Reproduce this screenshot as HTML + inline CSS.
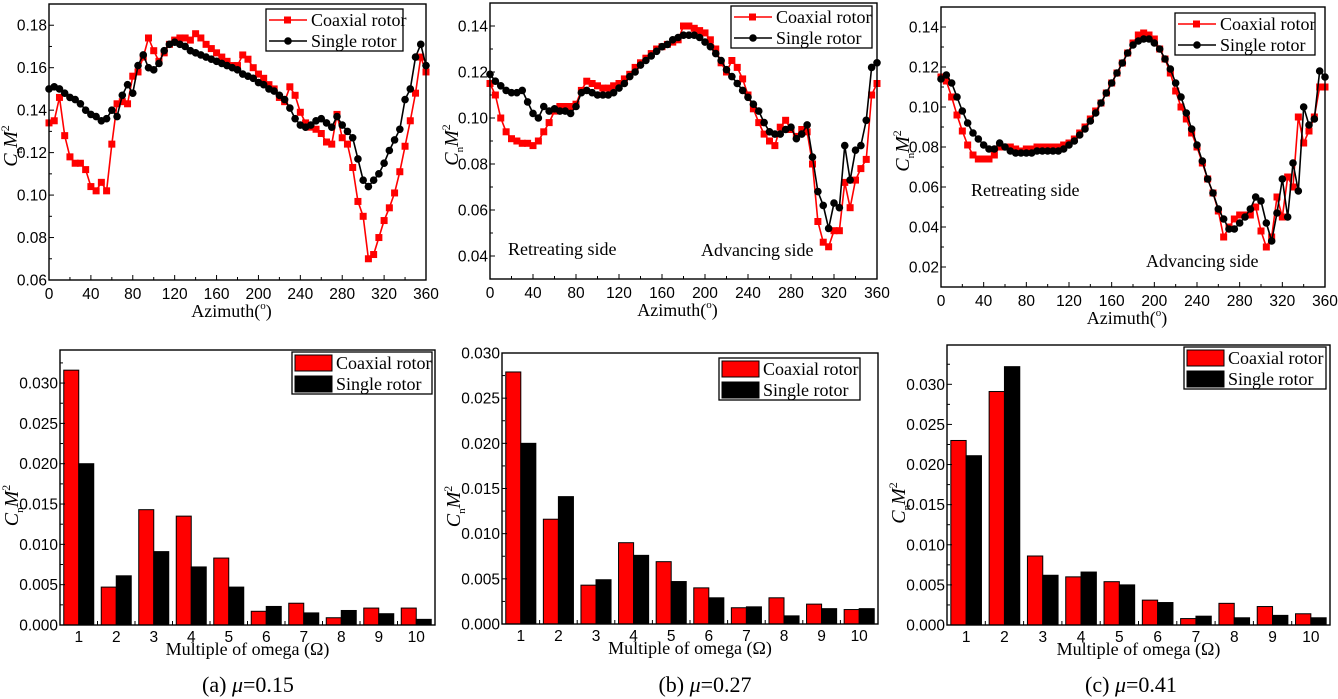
<!DOCTYPE html>
<html><head><meta charset="utf-8">
<style>
html,body{margin:0;padding:0;background:#fff;}
svg{display:block;}
.tk{font-family:"Liberation Sans",Arial,sans-serif;font-size:15.5px;fill:#000;}
.sf{font-family:"Liberation Serif","Times New Roman",serif;fill:#000;}
</style></head>
<body>
<svg id="fig" width="1338" height="699" viewBox="0 0 1338 699" xmlns="http://www.w3.org/2000/svg"></svg>
<script>
// ---------- data ----------
const azimuth = [0,5,10,15,20,25,30,35,40,45,50,55,60,65,70,75,80,85,90,95,100,105,110,115,120,125,130,135,140,145,150,155,160,165,170,175,180,185,190,195,200,205,210,215,220,225,230,235,240,245,250,255,260,265,270,275,280,285,290,295,300,305,310,315,320,325,330,335,340,345,350,355,360];
const coaxialA = [0.134,0.135,0.146,0.128,0.118,0.115,0.115,0.112,0.104,0.102,0.106,0.102,0.124,0.143,0.144,0.143,0.156,0.158,0.165,0.174,0.168,0.163,0.167,0.171,0.173,0.174,0.174,0.173,0.176,0.174,0.171,0.169,0.167,0.165,0.163,0.161,0.161,0.166,0.164,0.160,0.157,0.155,0.152,0.150,0.146,0.144,0.151,0.147,0.139,0.134,0.132,0.131,0.129,0.125,0.124,0.138,0.127,0.124,0.113,0.097,0.090,0.070,0.072,0.080,0.088,0.094,0.101,0.111,0.123,0.135,0.148,0.165,0.158];
const singleA = [0.150,0.151,0.150,0.148,0.146,0.145,0.143,0.140,0.138,0.137,0.135,0.136,0.140,0.137,0.147,0.152,0.148,0.161,0.166,0.160,0.159,0.162,0.168,0.171,0.172,0.171,0.170,0.168,0.167,0.166,0.165,0.164,0.163,0.162,0.161,0.160,0.159,0.157,0.156,0.155,0.153,0.152,0.150,0.149,0.147,0.145,0.141,0.136,0.133,0.132,0.133,0.135,0.136,0.134,0.132,0.137,0.133,0.130,0.127,0.117,0.107,0.104,0.107,0.110,0.115,0.121,0.126,0.131,0.145,0.150,0.165,0.171,0.161];
const coaxialB = [0.115,0.110,0.100,0.094,0.091,0.090,0.089,0.089,0.088,0.090,0.094,0.098,0.103,0.105,0.105,0.105,0.106,0.112,0.116,0.115,0.114,0.113,0.113,0.114,0.115,0.117,0.119,0.122,0.124,0.126,0.128,0.130,0.131,0.132,0.133,0.134,0.140,0.140,0.139,0.138,0.137,0.134,0.130,0.124,0.120,0.125,0.122,0.117,0.110,0.104,0.098,0.093,0.090,0.088,0.096,0.099,0.095,0.092,0.095,0.094,0.080,0.055,0.046,0.044,0.051,0.051,0.072,0.061,0.073,0.078,0.082,0.110,0.115];
const singleB = [0.119,0.116,0.114,0.112,0.111,0.111,0.112,0.107,0.102,0.100,0.105,0.103,0.104,0.103,0.103,0.102,0.105,0.111,0.112,0.111,0.110,0.110,0.110,0.111,0.113,0.115,0.118,0.120,0.123,0.125,0.127,0.129,0.131,0.132,0.134,0.135,0.136,0.136,0.136,0.135,0.133,0.131,0.128,0.125,0.121,0.118,0.115,0.112,0.109,0.106,0.103,0.098,0.094,0.093,0.093,0.095,0.096,0.091,0.093,0.097,0.083,0.068,0.062,0.052,0.063,0.061,0.088,0.073,0.086,0.088,0.099,0.122,0.124];
const coaxialC = [0.115,0.113,0.105,0.096,0.088,0.081,0.076,0.074,0.074,0.074,0.076,0.080,0.080,0.080,0.079,0.078,0.079,0.079,0.080,0.080,0.080,0.080,0.080,0.081,0.082,0.084,0.087,0.090,0.094,0.098,0.102,0.107,0.112,0.117,0.122,0.127,0.132,0.136,0.137,0.136,0.134,0.129,0.124,0.117,0.108,0.100,0.094,0.087,0.080,0.072,0.064,0.057,0.048,0.035,0.040,0.044,0.046,0.046,0.046,0.050,0.038,0.030,0.035,0.055,0.045,0.065,0.060,0.095,0.082,0.088,0.095,0.110,0.110];
const singleC = [0.114,0.116,0.112,0.105,0.098,0.092,0.087,0.084,0.081,0.079,0.079,0.082,0.080,0.078,0.077,0.077,0.077,0.077,0.078,0.078,0.078,0.078,0.078,0.079,0.081,0.083,0.086,0.089,0.093,0.097,0.102,0.107,0.112,0.117,0.122,0.127,0.131,0.133,0.134,0.134,0.132,0.129,0.124,0.119,0.112,0.105,0.097,0.089,0.081,0.073,0.064,0.057,0.049,0.044,0.039,0.039,0.042,0.045,0.049,0.055,0.053,0.042,0.033,0.047,0.064,0.045,0.072,0.058,0.100,0.091,0.094,0.118,0.115];
const harmonics = [1,2,3,4,5,6,7,8,9,10];
const barCoaxA = [0.0316,0.0047,0.0143,0.0135,0.0083,0.0017,0.0027,0.0009,0.0021,0.0021];
const barSingleA = [0.0200,0.0061,0.0091,0.0072,0.0047,0.0023,0.0015,0.0018,0.0014,0.0007];
const barCoaxB = [0.0279,0.0116,0.0043,0.0090,0.0069,0.0040,0.0018,0.0029,0.0022,0.0016];
const barSingleB = [0.0200,0.0141,0.0049,0.0076,0.0047,0.0029,0.0019,0.0009,0.0017,0.0017];
const barCoaxC = [0.0230,0.0291,0.0086,0.0060,0.0054,0.0031,0.0008,0.0027,0.0023,0.0014];
const barSingleC = [0.0211,0.0322,0.0062,0.0066,0.0050,0.0028,0.0011,0.0009,0.0012,0.0009];
const xTicksAz = [0,40,80,120,160,200,240,280,320,360];
const yTicksA = ["0.06","0.08","0.10","0.12","0.14","0.16","0.18"];
const yTicksB = ["0.04","0.06","0.08","0.10","0.12","0.14"];
const yTicksC = ["0.02","0.04","0.06","0.08","0.10","0.12","0.14"];
const yTicksBar = ["0.000","0.005","0.010","0.015","0.020","0.025","0.030"];

// ---------- helpers ----------
const NS="http://www.w3.org/2000/svg";
const svg=document.getElementById('fig');
function mk(tag,attrs,parent){const e=document.createElementNS(NS,tag);for(const k in attrs)e.setAttribute(k,attrs[k]);(parent||svg).appendChild(e);return e;}
function txt(str,attrs,parent){const e=mk('text',attrs,parent);e.textContent=str;return e;}

function yTitle(g,x,y){
  const t=mk('text',{x:0,y:0,class:'sf','font-size':20,'text-anchor':'middle',transform:`translate(${x},${y}) rotate(-90)`},g);
  
  
  t.innerHTML='<tspan font-style="italic">C</tspan><tspan font-size="11" dy="5">n</tspan><tspan font-style="italic" dy="-5">M</tspan><tspan font-size="12" dy="-8">2</tspan>';
}

function linePanel(id,L,R,T,B,ymin,ymax,yt,coax,single,leg,notes){
  const g=mk('g',{});
  
  
  const sx=v=>L+(v-0)/360*(R-L);
  const sy=v=>B-(v-ymin)/(ymax-ymin)*(B-T);
  for(let a=0;a<=360;a+=20){const x=sx(a);mk('line',{x1:x,x2:x,y1:B,y2:B-(a%40==0?5:3),stroke:'#000','stroke-width':1},g);}
  xTicksAz.forEach(a=>{const t=txt(String(a),{x:sx(a),y:B+19,'text-anchor':'middle',class:'tk'},g);
    });
  yt.forEach(s=>{const v=parseFloat(s);const y=sy(v);mk('line',{x1:L,x2:L+5,y1:y,y2:y,stroke:'#000'},g);
    const m=sy(v+0.01);if(m>T)mk('line',{x1:L,x2:L+3,y1:m,y2:m,stroke:'#000'},g);
    const t=txt(s,{x:L-2,y:y+5.5,'text-anchor':'end',class:'tk'},g);
    });
  const mb=sy(parseFloat(yt[0])-0.01); if(mb<B) mk('line',{x1:L,x2:L+3,y1:mb,y2:mb,stroke:'#000'},g);
  const series=[[coax,'#f00','sq','coaxial-series'],[single,'#000','ci','single-series']];
  series.forEach(([d,c,m,nm])=>{
    const s=mk('g',{},g);
    
    
    mk('polyline',{points:d.map((v,i)=>sx(azimuth[i])+','+sy(v)).join(' '),fill:'none',stroke:c,'stroke-width':1.6},s);
    d.forEach((v,i)=>{const x=sx(azimuth[i]),y=sy(v);
      if(m=='sq')mk('rect',{x:x-3.5,y:y-3.5,width:7,height:7,fill:c},s);
      else mk('circle',{cx:x,cy:y,r:3.8,fill:c},s);});
  });
  mk('rect',{x:L,y:T,width:R-L,height:B-T,fill:'none',stroke:'#000','stroke-width':1.4},g);
  const lg=mk('g',{},g);
  
  
  mk('rect',{x:leg[0],y:leg[1],width:leg[2],height:42,fill:'#fff',stroke:'#000','stroke-width':1.3},lg);
  [['Coaxial rotor','#f00','sq'],['Single rotor','#000','ci']].forEach(([n,c,m],k)=>{
    const y=leg[1]+11+k*21;
    const e=mk('g',{},lg);
    
    
    mk('line',{x1:leg[0]+3,x2:leg[0]+41,y1:y,y2:y,stroke:c,'stroke-width':1.6},e);
    if(m=='sq')mk('rect',{x:leg[0]+18,y:y-3.5,width:7,height:7,fill:c},e);else mk('circle',{cx:leg[0]+22,cy:y,r:3.8,fill:c},e);
    txt(n,{x:leg[0]+45,y:y+6,class:'sf','font-size':18},e);
  });
  const at=txt('',{x:(L+R)/2-6,y:B+37,'text-anchor':'middle',class:'sf','font-size':18},g);
  
  at.innerHTML='Azimuth(<tspan font-size="11" dy="-8">o</tspan><tspan dy="8">)</tspan>';
  yTitle(g,L-32,(T+B)/2+4);
  notes.forEach(([s,x,y])=>{const t=txt(s,{x:x,y:y,class:'sf','font-size':18},g);
    });
}

function barPanel(id,L,R,T,B,ymax,coax,single,leg,caption,cx){
  const g=mk('g',{});
  
  
  const slot=(R-L)/10;
  const sy=v=>B-v/ymax*(B-T);
  const sx=i=>L+slot*(i+0.5);
  harmonics.forEach((h,i)=>{
    const x=sx(i);
    const r=mk('rect',{x:x-slot*0.4,y:sy(coax[i]),width:slot*0.4,height:B-sy(coax[i]),fill:'#f00',stroke:'#000','stroke-width':1},g);
    
    
    const b=mk('rect',{x:x,y:sy(single[i]),width:slot*0.4,height:B-sy(single[i]),fill:'#000',stroke:'#000','stroke-width':1},g);
    
    
    mk('line',{x1:L+slot*(i+1),x2:L+slot*(i+1),y1:B,y2:B-4,stroke:'#000'},g);
    const t=txt(String(h),{x:x,y:B+17,'text-anchor':'middle',class:'tk'},g);
    
  });
  for(let v=0;v<=ymax+1e-9;v+=0.0025){const y=sy(v);mk('line',{x1:L,x2:L+(Math.round(v/0.0025)%2==0?5:3),y1:y,y2:y,stroke:'#000'},g);}
  yTicksBar.forEach(s=>{const v=parseFloat(s);const y=sy(v);
    const t=txt(s,{x:L-2,y:y+5.5,'text-anchor':'end',class:'tk'},g);
    });
  mk('rect',{x:L,y:T,width:R-L,height:B-T,fill:'none',stroke:'#000','stroke-width':1.4},g);
  const lg=mk('g',{},g);
  
  
  mk('rect',{x:leg[0],y:leg[1],width:leg[2],height:42,fill:'#fff',stroke:'#000','stroke-width':1.3},lg);
  [['Coaxial rotor','#f00'],['Single rotor','#000']].forEach(([n,c],k)=>{
    const y=leg[1]+11+k*21;
    const e=mk('g',{},lg);
    
    
    mk('rect',{x:leg[0]+3,y:y-8,width:37,height:16,fill:c,stroke:'#000'},e);
    txt(n,{x:leg[0]+44,y:y+6,class:'sf','font-size':18},e);
  });
  const at=txt('Multiple of omega (Ω)',{x:(L+R)/2,y:B+30,'text-anchor':'middle',class:'sf','font-size':18},g);
  
  yTitle(g,L-42,(T+B)/2+18);
  const c=txt('',{x:cx,y:692,'text-anchor':'middle',class:'sf','font-size':22},g);
  
  c.innerHTML=caption;
}

linePanel('a',49,426,4,280,0.06,0.19,yTicksA,coaxialA,singleA,[266,9,137],[]);
linePanel('b',490,877,3,279,0.03,0.15,yTicksB,coaxialB,singleB,[731,6,141],[['Retreating side',508,255],['Advancing side',701,256]]);
linePanel('c',941,1325,7,287,0.01,0.15,yTicksC,coaxialC,singleC,[1175,13,140],[['Retreating side',971,196],['Advancing side',1146,267]]);
barPanel('a',60,435,350,625,0.0341,barCoaxA,barSingleA,[292,352,140],'(a) <tspan font-style="italic">μ</tspan>=0.15',248);
barPanel('b',502,878,353,624,0.030,barCoaxB,barSingleB,[719,358,141],'(b) <tspan font-style="italic">μ</tspan>=0.27',705);
barPanel('c',947,1330,345,625,0.0349,barCoaxC,barSingleC,[1184,347,142],'(c) <tspan font-style="italic">μ</tspan>=0.41',1131);
</script>
</body></html>
